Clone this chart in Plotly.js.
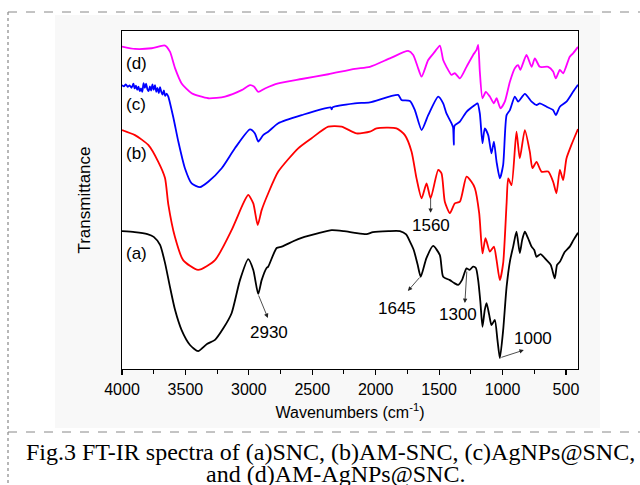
<!DOCTYPE html>
<html>
<head>
<meta charset="utf-8">
<script src="https://cdn.plot.ly/plotly-3.0.1.min.js"></script>
<style>html,body{margin:0;padding:0;background:#fff;}#chart{width:640px;height:485px;}</style>
</head>
<body>
<div id="chart"></div>
<script>
// (a) SNC - black
const wnA = [4000,3900,3800,3750,3700,3661,3622,3582,3530,3464,3400,3330,3267,3200,3136,3070,3005,2965,2926,2899,2860,2847,2781,2741,2650,2584,2450,2347,2250,2164,2072,2022,1900,1809,1760,1730,1700,1670,1645,1600,1547,1494,1468,1415,1380,1350,1320,1284,1260,1232,1210,1192,1175,1158,1140,1126,1105,1087,1061,1040,1021,995,968,940,916,890,864,845,824,800,771,750,732,700,653,620,588,570,548,510,470,440,405];
const tA  = [40.8,40.5,39.9,39.1,36.7,31.4,24.3,17.5,11.5,7.1,5.3,7.4,8.6,12.1,16.5,26.3,32.5,29.3,22.2,26.3,29.9,30.3,35.8,36.2,37.8,38.8,40.2,41.1,40.8,40.3,39.9,40.5,40.8,40.8,39.8,37.7,35.2,31.0,27.3,32.8,36.4,33.7,27.3,26.3,25.4,24.9,26.3,29.8,29.3,30.3,29.9,26.3,20.0,12.5,17.5,19.5,16.0,13.0,14.5,8.6,3.2,11.5,24.3,32.2,36.2,40.6,34.3,38.2,40.6,38.8,36.2,35.2,33.2,34.0,32.2,30.8,26.8,30.8,31.7,34.6,36.2,38.2,40.3];

// (b) AM-SNC - red
const wnB = [4000,3898,3793,3714,3661,3635,3583,3518,3400,3267,3136,3044,3005,2965,2930,2899,2847,2768,2611,2505,2374,2269,2151,2046,1993,1836,1770,1717,1678,1638,1599,1567,1507,1481,1455,1415,1376,1336,1284,1245,1218,1184,1158,1134,1100,1068,1047,1021,995,968,955,929,890,864,824,785,764,732,693,640,601,575,548,522,496,457,405];
const tB  = [70.7,69.2,66.3,61.3,56.5,48.7,39.1,32.2,29.3,32.2,41.1,49.0,51.5,49.0,42.6,47.0,52.0,58.4,65.3,68.3,71.7,71.7,69.7,70.2,71.2,71.2,69.2,64.3,56.4,50.5,54.9,50.5,58.9,57.9,49.5,46.1,49.0,49.5,56.9,55.4,53.5,46.1,34.2,38.7,34.7,36.2,32.2,26.3,31.3,49.0,56.4,54.4,70.2,62.3,70.7,64.3,59.4,61.3,58.4,58.4,55.4,52.0,58.9,55.9,62.3,66.3,71.0];

// (c) AgNPs@SNC - blue
const wnC = [4000,3985,3970,3955,3940,3925,3910,3900,3890,3880,3870,3860,3850,3840,3830,3820,3810,3800,3790,3780,3770,3760,3750,3740,3730,3720,3710,3700,3690,3680,3670,3660,3648,3635,3594,3556,3504,3451,3385,3320,3214,3110,2991,2952,2926,2887,2847,2768,2584,2355,2347,2340,2164,2046,1823,1797,1730,1691,1638,1586,1507,1468,1442,1402,1390,1384,1378,1336,1284,1218,1197,1179,1158,1140,1113,1087,1068,1047,1021,995,968,942,903,877,824,771,732,706,653,601,580,548,496,444,405];
const tC  = [84.0,83.6,84.2,83.5,83.9,83.2,84.4,83.0,83.8,82.6,83.5,82.2,83.0,82.0,84.6,83.2,84.4,82.8,82.2,83.6,82.4,84.2,82.6,84.0,82.0,83.2,81.6,83.4,82.0,81.2,82.4,80.8,81.5,80.6,74.2,67.3,59.4,54.9,53.8,55.4,59.4,65.3,70.9,69.7,67.3,69.2,70.2,72.7,75.1,77.4,76.8,77.4,78.6,78.9,81.1,79.6,79.3,76.6,70.7,75.1,80.6,78.6,75.6,72.7,71.5,66.3,72.0,73.2,76.1,78.1,78.6,75.6,66.8,71.2,69.2,63.8,67.3,61.3,56.4,60.4,75.1,76.6,80.6,79.1,81.4,79.1,78.1,78.6,77.6,76.6,75.1,77.6,79.1,82.0,84.1];

// (d) AM-AgNPs@SNC - magenta
const wnD = [4000,3898,3766,3661,3622,3582,3530,3451,3320,3188,3057,2991,2960,2926,2873,2768,2584,2374,2164,2046,1888,1744,1704,1670,1638,1586,1533,1494,1468,1442,1402,1376,1336,1284,1232,1205,1192,1179,1158,1132,1100,1068,1047,1016,982,942,903,877,860,811,771,745,706,640,601,580,548,522,470,444,405];
const tD  = [95.4,94.7,94.9,95.7,93.9,89.0,84.5,81.6,80.1,80.6,82.5,84.0,83.6,82.0,83.0,84.5,85.8,87.2,88.8,89.4,91.9,94.1,92.9,89.5,86.5,91.4,93.9,95.7,91.4,89.4,87.0,87.5,86.0,89.4,92.9,94.4,95.9,88.0,80.1,82.0,80.6,78.6,80.1,77.1,79.1,85.0,89.0,89.9,88.5,92.9,89.4,91.9,89.4,89.4,88.0,86.0,88.5,87.5,92.4,93.4,95.3];

const seriesNames = ["(a) SNC","(b) AM-SNC","(c) AgNPs@SNC","(d) AM-AgNPs@SNC"];
const seriesColors = ["#000000","#ff0000","#0000ff","#ff00ff"];
const curveLabels = ["(a)","(b)","(c)","(d)"];
const labelPos = [[3984,34.3],[3984,63.9],[3984,78.4],[3984,90.5]];

// peak annotations: text, text position, arrow tail, arrow head
const peakText = ["2930","1645","1300","1000","1560"];
const peakTextPos = [[2842,10.9],[1833,17.8],[1352,16.0],[761,8.9],[1565,42.6]];
const arrowTail = [[2928,22.2],[1644,27.5],[1281,29.3],[1021,3.3],[1567,50.9]];
const arrowHead = [[2850,15.1],[1746,23.1],[1297,19.5],[832,5.6],[1567,46.2]];

const xTicks = [4000,3500,3000,2500,2000,1500,1000,500];

const wns = [wnA,wnB,wnC,wnD];
const ts = [tA,tB,tC,tD];
const traces = wns.map((w,i)=>({
  x: w, y: ts[i], type:'scatter', mode:'lines', name: seriesNames[i],
  line:{color: seriesColors[i], width:1.8, shape:'spline', smoothing:0.6}, hoverinfo:'skip'
}));

const font = 'Arial, "Liberation Sans", sans-serif';
const annotations = [];
curveLabels.forEach((t,i)=>annotations.push({
  text:t, x:labelPos[i][0], y:labelPos[i][1], xref:'x', yref:'y',
  xanchor:'left', yanchor:'middle', showarrow:false,
  font:{family:font, size:17, color:'#000'}
}));
peakText.forEach((t,i)=>{
  annotations.push({text:t, x:peakTextPos[i][0], y:peakTextPos[i][1], xref:'x', yref:'y',
    xanchor:'center', yanchor:'middle', showarrow:false, font:{family:font, size:17, color:'#000'}});
  annotations.push({text:'', x:arrowHead[i][0], y:arrowHead[i][1], xref:'x', yref:'y',
    ax:arrowTail[i][0], ay:arrowTail[i][1], axref:'x', ayref:'y',
    showarrow:true, arrowhead:2, arrowsize:1.1, arrowwidth:0.8, arrowcolor:'#222', standoff:0, startstandoff:0});
});
const serif = '"Times New Roman", "Liberation Serif", serif';
annotations.push({text:'Fig.3 FT-IR spectra of (a)SNC, (b)AM-SNC, (c)AgNPs@SNC,',
  xref:'paper', yref:'paper', x:(330-122)/456, y:(369-452)/338, xanchor:'center', yanchor:'middle',
  showarrow:false, font:{family:serif, size:24, color:'#000'}});
annotations.push({text:'and (d)AM-AgNPs@SNC.',
  xref:'paper', yref:'paper', x:(335-122)/456, y:(369-474)/338, xanchor:'center', yanchor:'middle',
  showarrow:false, font:{family:serif, size:24, color:'#000'}});

const px = v => (v-122)/456;
const py = v => (369-v)/338;
const shapes = [
  {type:'rect', xref:'paper', yref:'paper', x0:px(55), x1:px(600), y0:py(428), y1:py(15), fillcolor:'#f8f8f8', line:{width:0}, layer:'below'},
  {type:'rect', xref:'paper', yref:'paper', x0:0, x1:1, y0:0, y1:1, fillcolor:'#ffffff', line:{width:0}, layer:'below'},
  {type:'line', xref:'paper', yref:'paper', x0:px(8), x1:px(640), y0:py(12), y1:py(12), line:{color:'#888', width:1, dash:'dash'}},
  {type:'line', xref:'paper', yref:'paper', x0:px(8), x1:px(8), y0:py(12), y1:py(485), line:{color:'#888', width:1.2, dash:'dot'}},
  {type:'line', xref:'paper', yref:'paper', x0:px(8), x1:px(640), y0:py(432), y1:py(432), line:{color:'#888', width:1, dash:'dash'}}
];

const layout = {
  width:640, height:485,
  margin:{l:122, r:62, t:31, b:116},
  paper_bgcolor:'#ffffff', plot_bgcolor:'#ffffff',
  showlegend:false,
  font:{family:font, color:'#000'},
  xaxis:{
    range:[4000,405], tickmode:'array', tickvals:xTicks,
    ticks:'outside', ticklen:5, tickwidth:1.2, tickcolor:'#000',
    minor:{dtick:250, tick0:0, ticks:'outside', ticklen:4, tickwidth:1, tickcolor:'#000'},
    showline:true, mirror:true, linecolor:'#000', linewidth:1.3,
    showgrid:false, zeroline:false,
    tickfont:{family:font, size:16, color:'#000'},
    title:{text:'Wavenumbers (cm<sup>-1</sup>)', font:{family:font, size:16, color:'#000'}, standoff:10}
  },
  yaxis:{
    range:[0,100], showticklabels:false, ticks:'',
    showline:true, mirror:true, linecolor:'#000', linewidth:1.3,
    showgrid:false, zeroline:false,
    title:{text:'Transmittance', font:{family:font, size:17, color:'#000'}, standoff:25}
  },
  annotations: annotations,
  shapes: shapes
};

Plotly.newPlot('chart', traces, layout, {staticPlot:true, displayModeBar:false});
</script>
</body>
</html>
